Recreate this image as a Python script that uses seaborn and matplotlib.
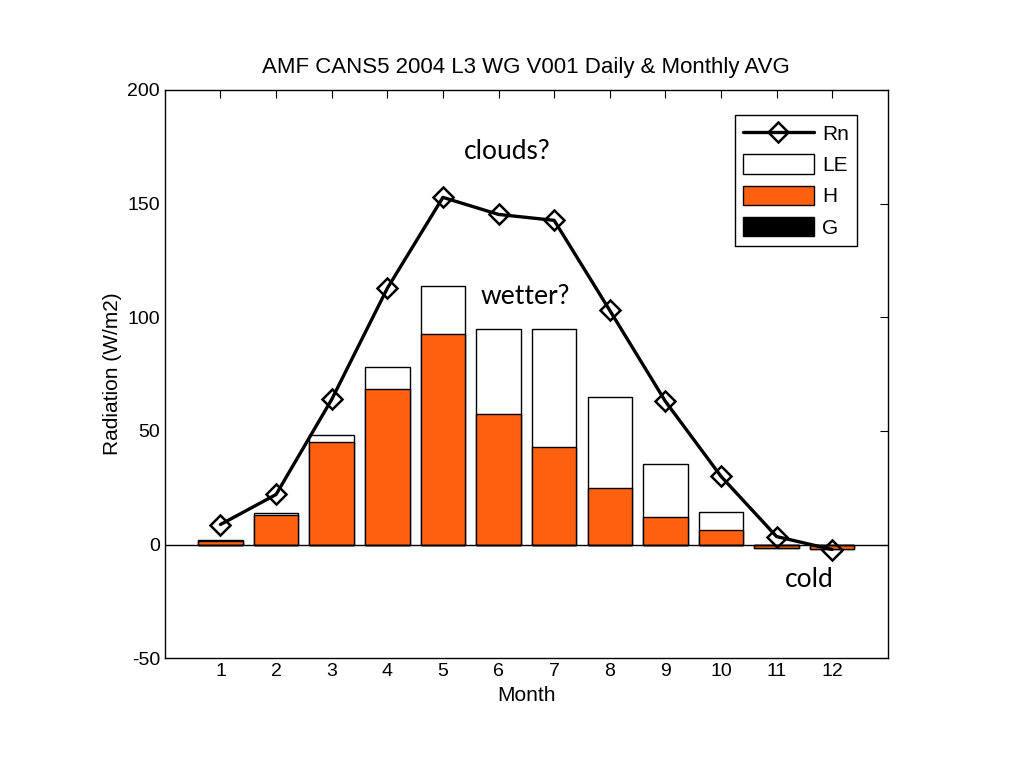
import matplotlib
matplotlib.use('Agg')
import matplotlib.pyplot as plt
import seaborn as sns
import pandas as pd
from matplotlib.patches import Patch
from matplotlib.lines import Line2D

months = [1, 2, 3, 4, 5, 6, 7, 8, 9, 10, 11, 12]
rn = [8.8, 22.0, 63.8, 112.7, 152.7, 145.2, 142.6, 103.0, 63.0, 30.0, 3.5, -2.2]
h = [1.5, 13.2, 45.3, 68.2, 92.4, 57.2, 43.1, 25.0, 11.9, 6.6, -1.5, -2.0]
le = [0.3, 0.5, 2.7, 10.1, 21.1, 37.8, 51.9, 39.7, 23.3, 7.5, 0.0, 0.0]
g = [0.0] * 12

orange = '#FF6010'

df = pd.DataFrame({'Month': months, 'Rn': rn, 'H': h, 'LE': le, 'G': g})
df['H+LE'] = df['H'] + df['LE']

sns.set_style('white')
plt.rcParams['font.family'] = ['Liberation Sans', 'DejaVu Sans']
plt.rcParams['axes.unicode_minus'] = False
plt.rcParams['text.color'] = 'black'
plt.rcParams['axes.labelcolor'] = 'black'
plt.rcParams['xtick.color'] = 'black'
plt.rcParams['ytick.color'] = 'black'

fig = plt.figure(figsize=(10.24, 7.68), dpi=100)
ax = fig.add_axes([0.161, 0.143, 0.706, 0.74])

sns.barplot(data=df, x='Month', y='H+LE', native_scale=True, color='white',
            edgecolor='black', linewidth=1, width=0.8, saturation=1, ax=ax)
sns.barplot(data=df, x='Month', y='H', native_scale=True, color=orange,
            edgecolor='black', linewidth=1, width=0.8, saturation=1, ax=ax)
sns.barplot(data=df, x='Month', y='G', native_scale=True, color='black',
            edgecolor='black', linewidth=1, width=0.8, saturation=1, ax=ax)
ax.axhline(0, color='black', lw=1)
sns.lineplot(data=df, x='Month', y='Rn', color='black', lw=2.4, marker='D',
             markersize=10, markerfacecolor='none', markeredgecolor='black',
             markeredgewidth=1.8, ax=ax)

ax.set_xlim(0, 13)
ax.set_ylim(-50, 200)
ax.set_xticks(months)
ax.set_yticks([-50, 0, 50, 100, 150, 200])
ax.tick_params(direction='in', top=True, right=True, length=6, labelsize=14)
for s in ax.spines.values():
    s.set_color('black')
    s.set_linewidth(1)
ax.set_xlabel('Month', fontsize=15)
ax.set_ylabel('Radiation (W/m2)', fontsize=15)
ax.set_title('AMF CANS5 2004 L3 WG V001 Daily & Monthly AVG', fontsize=16, pad=12)

note_font = ['Lato', 'DejaVu Sans']
ax.annotate('clouds?', (0.473, 0.891), xycoords='axes fraction', fontsize=19,
            family=note_font, ha='center', va='center')
ax.annotate('wetter?', (0.498, 0.636), xycoords='axes fraction', fontsize=19,
            family=note_font, ha='center', va='center')
ax.annotate('cold', (0.892, 0.139), xycoords='axes fraction', fontsize=19,
            family=note_font, ha='center', va='center')

handles = [
    Line2D([], [], color='black', lw=2.4, marker='D', markersize=10,
           markerfacecolor='none', markeredgewidth=1.8),
    Patch(facecolor='white', edgecolor='black'),
    Patch(facecolor=orange, edgecolor='black'),
    Patch(facecolor='black', edgecolor='black'),
]
leg = ax.legend(handles, ['Rn', 'LE', 'H', 'G'], loc='upper right',
                bbox_to_anchor=(0.958, 0.956), fontsize=15, fancybox=False,
                framealpha=1, edgecolor='black', handlelength=3.4,
                handleheight=1.05, labelspacing=0.5, borderpad=0.4,
                handletextpad=0.4, borderaxespad=0)
leg.get_frame().set_linewidth(1)

fig.savefig('out.png', dpi=100)
